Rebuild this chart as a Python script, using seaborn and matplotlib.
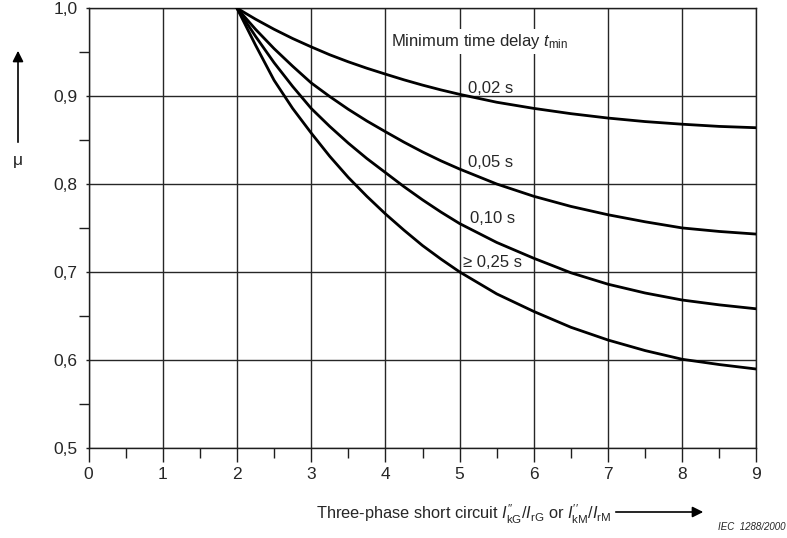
import matplotlib
matplotlib.use("Agg")
import matplotlib.pyplot as plt
import pandas as pd
import seaborn as sns
from matplotlib.ticker import FixedLocator

# Ratio of initial short-circuit current to rated current
ratio = [2, 2.25, 2.5, 2.75, 3, 3.25, 3.5, 3.75, 4, 4.25, 4.5, 4.75, 5,
         5.5, 6, 6.5, 7, 7.5, 8, 8.5, 9]

# Factor mu for each minimum time delay
mu_002 = [1.000, 0.9875, 0.976, 0.9655, 0.956, 0.947, 0.939, 0.9317, 0.925,
          0.9185, 0.9125, 0.907, 0.902,
          0.893, 0.886, 0.880, 0.875, 0.871, 0.868, 0.8655, 0.864]
mu_005 = [1.000, 0.976, 0.954, 0.934, 0.915, 0.8995, 0.885, 0.8717, 0.8595,
          0.8476, 0.8365, 0.8263, 0.817,
          0.800, 0.786, 0.7745, 0.765, 0.757, 0.750, 0.746, 0.743]
mu_010 = [1.000, 0.968, 0.938, 0.911, 0.886, 0.8655, 0.8465, 0.829, 0.813,
          0.797, 0.782, 0.768, 0.755,
          0.7335, 0.7155, 0.699, 0.686, 0.676, 0.668, 0.6625, 0.658]
mu_025 = [1.000, 0.958, 0.918, 0.886, 0.858, 0.8315, 0.8075, 0.786, 0.766,
          0.7475, 0.730, 0.7145, 0.700,
          0.675, 0.655, 0.637, 0.6225, 0.6105, 0.6006, 0.5946, 0.5895]

delay_labels = ["0,02 s", "0,05 s", "0,10 s", "\u2265 0,25 s"]
label_pos_x = [5.42, 5.42, 5.44, 5.44]
label_pos_y = [0.909, 0.824, 0.761, 0.711]

x_ticks = [0, 1, 2, 3, 4, 5, 6, 7, 8, 9]
x_minor = [0.5, 1.5, 2.5, 3.5, 4.5, 5.5, 6.5, 7.5, 8.5]
y_ticks = [0.5, 0.6, 0.7, 0.8, 0.9, 1.0]
y_tick_labels = ["0,5", "0,6", "0,7", "0,8", "0,9", "1,0"]
y_minor = [0.55, 0.65, 0.75, 0.85, 0.95]

sns.set_style("ticks")
plt.rcParams["font.family"] = ["Liberation Sans", "DejaVu Sans"]
plt.rcParams["mathtext.fontset"] = "custom"
plt.rcParams["mathtext.rm"] = "Liberation Sans"
plt.rcParams["mathtext.it"] = "Liberation Sans:italic"

frames = []
for vals, lab in zip([mu_002, mu_005, mu_010, mu_025], delay_labels):
    frames.append(pd.DataFrame({"ratio": ratio, "mu": vals, "delay": lab}))
df = pd.concat(frames, ignore_index=True)

fig = plt.figure(figsize=(7.87, 5.38), dpi=100)
ax = fig.add_axes([0.1125, 0.1678, 0.8487, 0.817])

sns.lineplot(data=df, x="ratio", y="mu", hue="delay", palette=["black"] * 4,
             linewidth=2.0, legend=False, errorbar=None, ax=ax, zorder=3)

ax.set_xlim(0, 9)
ax.set_ylim(0.5, 1.0)
ax.xaxis.set_major_locator(FixedLocator(x_ticks))
ax.xaxis.set_minor_locator(FixedLocator(x_minor))
ax.yaxis.set_major_locator(FixedLocator(y_ticks))
ax.yaxis.set_minor_locator(FixedLocator(y_minor))
ax.set_xticklabels([str(t) for t in x_ticks])
ax.set_yticklabels(y_tick_labels)

ax.grid(True, which="major", color="#262626", linewidth=1.0, zorder=1)
for sp in ax.spines.values():
    sp.set_visible(True)
    sp.set_color("#1e1e1e")
    sp.set_linewidth(1.0)

ax.tick_params(axis="x", which="both", bottom=True, top=False)
ax.tick_params(axis="y", which="both", left=True, right=False)
ax.tick_params(axis="x", which="major", direction="out", length=10, width=1.0,
               color="#1e1e1e", pad=4.0, labelsize=12.5)
ax.tick_params(axis="x", which="minor", direction="out", length=7.2, width=1.0,
               color="#1e1e1e")
ax.tick_params(axis="y", which="major", direction="out", length=2.2, width=1.0,
               color="#1e1e1e", pad=5.5, labelsize=12.5)
ax.tick_params(axis="y", which="minor", direction="out", length=7.2, width=1.0,
               color="#1e1e1e")
ax.set_xlabel("")
ax.set_ylabel("")

# Curve annotations (title masks the grid behind it)
ax.text(4.08, 0.962, r"Minimum time delay $t_{\mathrm{min}}$", fontsize=12,
        ha="left", va="center", zorder=2.5,
        bbox=dict(facecolor="white", edgecolor="none", pad=2))
for lx, ly, lab in zip(label_pos_x, label_pos_y, delay_labels):
    ax.text(lx, ly, lab, fontsize=12, ha="center", va="center")

# Axis captions with arrows
fig.text(18 / 787, 1 - 160 / 538, "\u03bc", fontsize=12.5, ha="center", va="center")
fig.add_artist(matplotlib.patches.FancyArrowPatch(
    (18 / 787, 1 - 145 / 538), (18 / 787, 1 - 48 / 538),
    transform=fig.transFigure, arrowstyle="-|>", mutation_scale=16,
    color="black", linewidth=1.2))

fig.text(316 / 787, 1 - 514 / 538,
         r"Three-phase short circuit $I^{\prime\prime}_{\mathrm{kG}}/I_{\mathrm{rG}}$"
         r" or $I^{\prime\prime}_{\mathrm{kM}}/I_{\mathrm{rM}}$",
         fontsize=11.8, ha="left", va="center")
fig.add_artist(matplotlib.patches.FancyArrowPatch(
    (613 / 787, 1 - 512 / 538), (706 / 787, 1 - 512 / 538),
    transform=fig.transFigure, arrowstyle="-|>", mutation_scale=16,
    color="black", linewidth=1.2))

fig.text(718 / 787, 1 - 527 / 538, "IEC  1288/2000", fontsize=7,
         style="italic", ha="left", va="center")

fig.savefig("out.png", dpi=100, facecolor="white")
